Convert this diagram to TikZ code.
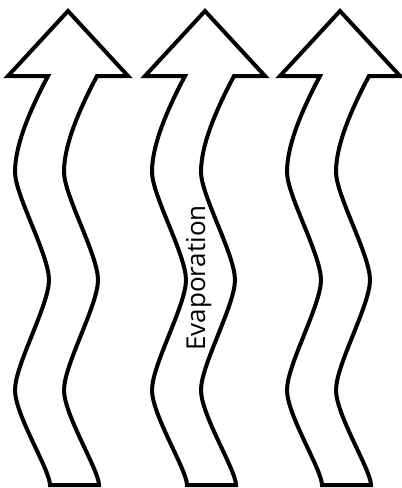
\documentclass[tikz,border=0pt]{standalone}
\usepackage{fontspec}
\setmainfont{Open Sans}
\begin{document}
\begin{tikzpicture}[x=1pt,y=-1pt,
  wavearrow/.style={draw=black,fill=white,line width=4pt,line join=miter},
  label/.style={font=\fontsize{26}{29}\selectfont,rotate=90,inner sep=0pt,anchor=base west}]
\useasboundingbox (0,0) rectangle (402,488);
\foreach \s/\n in {0/a,137/b,272/c}{
\begin{scope}[xshift=\s pt]
\draw[wavearrow] (48,76) -- (8,76) -- (68,11) -- (128,76) -- (97,76)
  .. controls (79,110) and (64,145) .. (64,172)
  .. controls (64,195) and (98,255) .. (98,280)
  .. controls (98,305) and (64,365) .. (64,390)
  .. controls (64,415) and (99,470) .. (99,485)
  -- (50,485)
  .. controls (50,470) and (15,415) .. (15,390)
  .. controls (15,365) and (49,305) .. (49,280)
  .. controls (49,255) and (15,195) .. (15,172)
  .. controls (15,145) and (30,110) .. (48,76) -- cycle;
\end{scope}
}
\node[label] (evap) at (205,351) {Evaporation};
\end{tikzpicture}
\end{document}
